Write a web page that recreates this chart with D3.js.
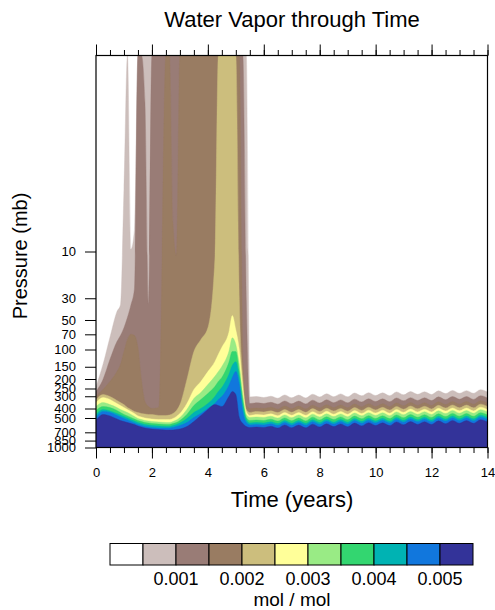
<!DOCTYPE html>
<html>
<head>
<meta charset="utf-8">
<script src="https://cdn.jsdelivr.net/npm/d3@7"></script>
<style>
  body { margin: 0; background: #fff; }
  text { font-family: "Liberation Sans", Arial, Helvetica, sans-serif; fill: #000; }
</style>
</head>
<body>
<div id="chart"></div>
<script>
// time axis (years) shared by every contour boundary below
var years = [0, 0.25, 0.5, 0.75, 0.875, 1, 1.125, 1.25, 1.375, 1.5, 1.625, 1.75, 1.875, 2, 2.25, 2.5, 2.625, 2.75, 2.875, 3,
  3.25, 3.5, 3.75, 4, 4.25, 4.375, 4.5, 4.75, 4.875, 5, 5.125, 5.25, 5.375, 5.5, 5.75, 6,
  6.25, 6.5, 6.75, 7, 7.25, 7.5, 7.75, 8, 8.25, 8.5, 8.75, 9, 9.25, 9.5, 9.75, 10,
  10.25, 10.5, 10.75, 11, 11.25, 11.5, 11.75, 12, 12.25, 12.5, 12.75, 13, 13.25, 13.5, 13.75, 14];

// highest pressure level (mb) reached by water vapor above each contour level
var wv0005 = [239, 142, 75, 41, 35, 2.3, 0.1, 9.5, 6, 0.1, 0.1, 0.1, 0.1, 0.1, 0.1, 0.1, 0.1, 0.1, 0.1, 0.1,
  0.1, 0.1, 0.1, 0.1, 0.1, 0.1, 0.1, 0.1, 0.1, 0.1, 0.1, 0.1, 0.1, 305, 302, 309,
  300, 314, 291, 311, 292, 312, 286, 305, 283, 303, 284, 304, 278, 297, 276, 295,
  277, 296, 271, 290, 269, 287, 270, 288, 264, 282, 262, 280, 263, 280, 257, 272];
var wv0010 = [268, 202, 126, 83, 72, 60, 47, 35, 24, 0.1, 0.1, 0.3, 34, 0.1, 0.1, 0.1, 0.1, 0.1, 0.1, 0.1,
  0.1, 0.1, 0.1, 0.1, 0.1, 0.1, 0.1, 0.1, 0.1, 0.1, 0.1, 0.1, 31, 356, 350, 356,
  346, 361, 335, 358, 336, 359, 329, 352, 326, 349, 327, 350, 321, 343, 318, 340,
  319, 341, 312, 334, 310, 331, 311, 332, 304, 325, 302, 322, 302, 323, 296, 313];
var wv0015 = [302, 256, 212, 168, 142, 105, 79, 70, 72, 95, 202, 339, 382, 400, 391, 0.1, 0.1, 5, 11, 0.1,
  0.1, 0.1, 0.1, 0.1, 0.1, 0.1, 0.1, 0.1, 0.1, 0.1, 0.1, 126, 365, 400, 395, 400,
  389, 406, 377, 402, 378, 404, 370, 395, 367, 392, 368, 393, 360, 385, 357, 382,
  358, 383, 351, 375, 348, 372, 349, 373, 342, 365, 339, 362, 340, 363, 333, 352];
var wv0020 = [324, 288, 302, 331, 348, 365, 391, 409, 429, 439, 450, 455, 460, 460, 471, 471, 466, 450, 419, 365,
  202, 105, 79, 60, 12, 0.1, 0.1, 0.1, 0.1, 0.1, 31, 193, 409, 439, 428, 434,
  422, 440, 409, 437, 410, 438, 401, 429, 398, 425, 399, 426, 391, 418, 388, 414,
  389, 415, 381, 407, 377, 403, 379, 404, 371, 396, 368, 393, 369, 394, 361, 381];
var wv0025 = [348, 309, 324, 356, 373, 391, 409, 429, 450, 476, 488, 500, 506, 512, 518, 518, 518, 506, 482, 450,
  356, 256, 212, 168, 133, 112, 95, 67, 45, 63, 100, 244, 429, 471, 460, 466,
  453, 473, 439, 469, 440, 470, 431, 461, 427, 457, 429, 458, 420, 449, 416, 445,
  417, 446, 409, 437, 405, 433, 407, 434, 398, 425, 395, 422, 396, 423, 388, 410];
var wv0030 = [382, 348, 365, 391, 409, 424, 439, 460, 482, 506, 518, 530, 537, 543, 549, 556, 556, 543, 524, 494,
  409, 316, 274, 228, 188, 168, 149, 105, 76, 89, 142, 288, 460, 494, 488, 494,
  480, 501, 465, 497, 466, 498, 457, 488, 453, 484, 454, 485, 445, 475, 441, 471,
  442, 473, 433, 463, 430, 459, 431, 460, 422, 451, 418, 447, 420, 448, 411, 434];
var wv0035 = [419, 382, 391, 419, 439, 460, 476, 494, 512, 530, 543, 556, 562, 569, 576, 582, 582, 569, 556, 530,
  460, 373, 324, 281, 239, 212, 193, 136, 105, 105, 168, 324, 494, 530, 524, 530,
  515, 538, 499, 533, 500, 535, 490, 524, 486, 519, 487, 521, 478, 510, 473, 506,
  475, 507, 465, 497, 461, 492, 462, 494, 453, 484, 449, 480, 450, 481, 441, 466];
var wv0040 = [460, 409, 424, 450, 466, 482, 500, 518, 537, 556, 569, 582, 589, 596, 603, 610, 610, 596, 582, 562,
  506, 439, 400, 356, 302, 268, 244, 180, 145, 133, 193, 365, 518, 562, 556, 562,
  547, 570, 529, 565, 531, 567, 520, 555, 515, 551, 517, 552, 506, 541, 502, 536,
  503, 538, 493, 527, 489, 522, 490, 524, 480, 513, 476, 509, 477, 510, 468, 494];
var wv0045 = [494, 429, 439, 471, 488, 506, 524, 543, 562, 582, 596, 610, 617, 625, 632, 632, 632, 625, 610, 596,
  556, 494, 450, 400, 356, 324, 302, 233, 193, 168, 228, 429, 556, 589, 582, 589,
  573, 598, 555, 592, 556, 594, 545, 582, 540, 577, 542, 579, 531, 567, 526, 562,
  528, 564, 517, 552, 512, 547, 514, 549, 503, 538, 499, 533, 500, 535, 490, 518];
var wv0050 = [530, 460, 476, 512, 530, 543, 556, 569, 582, 603, 617, 632, 640, 647, 655, 663, 663, 663, 655, 647,
  610, 543, 471, 409, 365, 373, 382, 302, 268, 288, 494, 569, 610, 625, 617, 625,
  608, 634, 588, 629, 590, 630, 578, 618, 573, 612, 575, 614, 563, 602, 558, 596,
  560, 598, 548, 586, 544, 581, 545, 582, 534, 571, 529, 566, 531, 567, 520, 549];

var levels = [0.0005, 0.001, 0.0015, 0.002, 0.0025, 0.003, 0.0035, 0.004, 0.0045, 0.005];
var boundaries = [wv0005, wv0010, wv0015, wv0020, wv0025, wv0030, wv0035, wv0040, wv0045, wv0050];
// reversed terrain colormap, white first
var fillColors = ["#ffffff", "#ccbebb", "#997c76", "#997c62", "#ccbe7d", "#ffff99",
  "#99eb85", "#33d670", "#00b3b3", "#1177dd", "#333399"];
var pressureTicks = [10, 30, 50, 70, 100, 150, 200, 250, 300, 400, 500, 700, 850, 1000];
var yearTicks = [0, 2, 4, 6, 8, 10, 12, 14];
var yearMinor = d3.range(0, 14.01, 0.5);
var barLabels = ["0.001", "0.002", "0.003", "0.004", "0.005"];

var plotL = 96, plotR = 487.5, plotT = 55.5, plotB = 447.5;

var svg = d3.select("#chart")
    .append("svg")
    .attr("width", 495)
    .attr("height", 610);

var x = d3.scaleLinear().domain([0, 14]).range([plotL, plotR]);
var y = d3.scaleLog().domain([1000, 0.1]).range([plotB, plotT]);

svg.append("clipPath")
    .attr("id", "plotclip")
    .append("rect")
    .attr("x", plotL).attr("y", plotT)
    .attr("width", plotR - plotL).attr("height", plotB - plotT);

var area = d3.area()
    .curve(d3.curveMonotoneX)
    .x(function(d, i) { return x(years[i]); })
    .y0(y(1000))
    .y1(function(d) { return y(d); });

// filled contours, lowest level first so higher values sit on top
svg.append("g")
    .attr("clip-path", "url(#plotclip)")
    .selectAll("path")
    .data(boundaries)
    .enter()
    .append("path")
    .attr("d", area)
    .attr("fill", function(d, i) { return fillColors[i + 1]; })
    .attr("stroke", function(d, i) { return fillColors[i + 1]; })
    .attr("stroke-width", 0.4);

// axes
var xb = svg.append("g")
    .attr("transform", "translate(0," + plotB + ")")
    .call(d3.axisBottom(x).tickValues(yearTicks).tickSize(11).tickSizeOuter(0).tickPadding(9.5));
xb.selectAll("text").style("font-size", "13px");

svg.append("g")
    .attr("transform", "translate(0," + plotB + ")")
    .call(d3.axisBottom(x).tickValues(yearMinor).tickSize(5.5).tickSizeOuter(0).tickFormat(""));

svg.append("g")
    .attr("transform", "translate(0," + plotT + ")")
    .call(d3.axisTop(x).tickValues(yearTicks).tickSize(11).tickSizeOuter(0).tickFormat(""));

svg.append("g")
    .attr("transform", "translate(0," + plotT + ")")
    .call(d3.axisTop(x).tickValues(yearMinor).tickSize(5.5).tickSizeOuter(0).tickFormat(""));

var yl = svg.append("g")
    .attr("transform", "translate(" + plotL + ",0)")
    .call(d3.axisLeft(y).tickValues(pressureTicks).tickFormat(d3.format("d"))
        .tickSize(11).tickSizeOuter(0).tickPadding(9));
yl.selectAll("text").style("font-size", "13px");

svg.selectAll(".domain").remove();
svg.selectAll(".tick line").attr("stroke", "#000").attr("stroke-width", 1);

svg.append("rect")
    .attr("x", plotL).attr("y", plotT)
    .attr("width", plotR - plotL).attr("height", plotB - plotT)
    .attr("fill", "none")
    .attr("stroke", "#000")
    .attr("stroke-width", 1.2);

// titles
svg.append("text")
    .attr("x", 292).attr("y", 27)
    .attr("text-anchor", "middle")
    .style("font-size", "22px")
    .text("Water Vapor through Time");

svg.append("text")
    .attr("x", 292).attr("y", 507)
    .attr("text-anchor", "middle")
    .style("font-size", "22px")
    .text("Time (years)");

svg.append("text")
    .attr("transform", "translate(27,256) rotate(-90)")
    .attr("text-anchor", "middle")
    .style("font-size", "20px")
    .text("Pressure (mb)");

// colorbar
var barX = d3.scaleLinear().domain([0, fillColors.length]).range([110, 473]);
var barY = 543.5, barH = 21.5;

svg.append("g")
    .selectAll("rect")
    .data(fillColors)
    .enter()
    .append("rect")
    .attr("x", function(d, i) { return barX(i); })
    .attr("y", barY)
    .attr("width", barX(1) - barX(0))
    .attr("height", barH)
    .attr("fill", function(d) { return d; })
    .attr("stroke", "#000")
    .attr("stroke-width", 1);

svg.append("g")
    .selectAll("text")
    .data(barLabels)
    .enter()
    .append("text")
    .attr("x", function(d, i) { return barX(2 * i + 2); })
    .attr("y", 585)
    .attr("text-anchor", "middle")
    .style("font-size", "18px")
    .text(function(d) { return d; });

svg.append("text")
    .attr("x", 292).attr("y", 606)
    .attr("text-anchor", "middle")
    .style("font-size", "19px")
    .text("mol / mol");
</script>
</body>
</html>
